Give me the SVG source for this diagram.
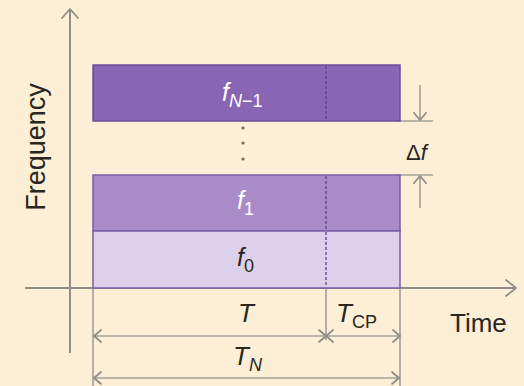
<svg xmlns="http://www.w3.org/2000/svg" width="524" height="386" viewBox="0 0 524 386">
<defs>
<style>
.ax{stroke:#8f8d86;stroke-width:2;fill:none}
.gl{stroke:#a3a096;stroke-width:1.6;fill:none}
.ch{stroke:#8f8d86;stroke-width:1.8;fill:none;stroke-linecap:round;stroke-linejoin:round}
.t{font-family:"Liberation Sans",Arial,sans-serif;fill:#2a2622}
.it{font-style:italic}
.w{fill:#ffffff}
.dash{stroke:#5e4190;stroke-width:1.3;stroke-dasharray:3 2;fill:none}
</style>
</defs>
<rect width="524" height="386" fill="#fcefd6"/>

<g id="connectors">
  <line class="ax" x1="70" y1="10" x2="70" y2="353"/>
  <polyline class="ch" points="62,18 70,9 78,18"/>
  <line class="ax" x1="25" y1="288" x2="515" y2="288"/>
  <polyline class="ch" points="506,280 516,288 506,296"/>
  <line class="gl" x1="93" y1="288" x2="93" y2="386"/>
  <line class="gl" x1="400" y1="288" x2="400" y2="386"/>
  <line class="gl" x1="326" y1="288" x2="326" y2="340"/>
  <line class="gl" x1="93" y1="336" x2="400" y2="336"/>
  <polyline class="ch" points="101,330 94,336 101,342"/>
  <polyline class="ch" points="319,330 326,336 319,342"/>
  <polyline class="ch" points="333,330 326,336 333,342"/>
  <polyline class="ch" points="393,330 400,336 393,342"/>
  <line class="gl" x1="93" y1="378" x2="400" y2="378"/>
  <polyline class="ch" points="101,372 94,378 101,384"/>
  <polyline class="ch" points="392,372 399,378 392,384"/>
  <line class="gl" x1="396" y1="121" x2="433" y2="121"/>
  <line class="gl" x1="396" y1="175" x2="433" y2="175"/>
  <line class="gl" x1="420" y1="85" x2="420" y2="120"/>
  <polyline class="ch" points="414,113 420,120 426,113"/>
  <line class="gl" x1="420" y1="176" x2="420" y2="208"/>
  <polyline class="ch" points="414,183 420,176 426,183"/>
</g>

<g id="node-fN1">
  <rect x="93" y="65" width="307" height="56" fill="#8866b4" stroke="#6c4c9c" stroke-width="1.5"/>
  <line class="dash" x1="326" y1="66" x2="326" y2="120"/>
  <text class="t it w" x="222" y="101" font-size="25">f<tspan font-size="18" dy="6" font-style="italic">N</tspan><tspan font-size="18" font-style="normal">−1</tspan></text>
</g>

<g id="node-dots">
  <circle cx="243" cy="128" r="1.6" fill="#6e6a66"/>
  <circle cx="243" cy="143" r="1.6" fill="#6e6a66"/>
  <circle cx="243" cy="159" r="1.6" fill="#6e6a66"/>
</g>

<g id="node-f1">
  <rect x="93" y="175" width="307" height="56" fill="#a98bc8" stroke="#7a5da8" stroke-width="1.5"/>
  <line class="dash" x1="326" y1="176" x2="326" y2="230"/>
  <text class="t it w" x="237" y="209" font-size="25">f<tspan font-size="18" dy="6" font-style="normal">1</tspan></text>
</g>

<g id="node-f0">
  <rect x="93" y="231" width="307" height="57" fill="#ddd0ea" stroke="#7a5da8" stroke-width="1.5"/>
  <line class="dash" x1="326" y1="232" x2="326" y2="287"/>
  <text class="t it" x="237" y="266" font-size="25">f<tspan font-size="18" dy="6" font-style="normal">0</tspan></text>
</g>

<g id="labels">
  <text class="t" x="0" y="0" font-size="27" text-anchor="middle" transform="translate(45,147) rotate(-90)">Frequency</text>
  <text class="t" x="450" y="332" font-size="26">Time</text>
  <text class="t it" x="238" y="322" font-size="26">T</text>
  <text class="t it" x="336" y="322" font-size="26">T<tspan font-size="18" dy="6" font-style="normal">CP</tspan></text>
  <text class="t it" x="233" y="365" font-size="26">T<tspan font-size="18" dy="6">N</tspan></text>
  <text class="t" x="406" y="160" font-size="22">Δ<tspan font-style="italic">f</tspan></text>
</g>
</svg>
